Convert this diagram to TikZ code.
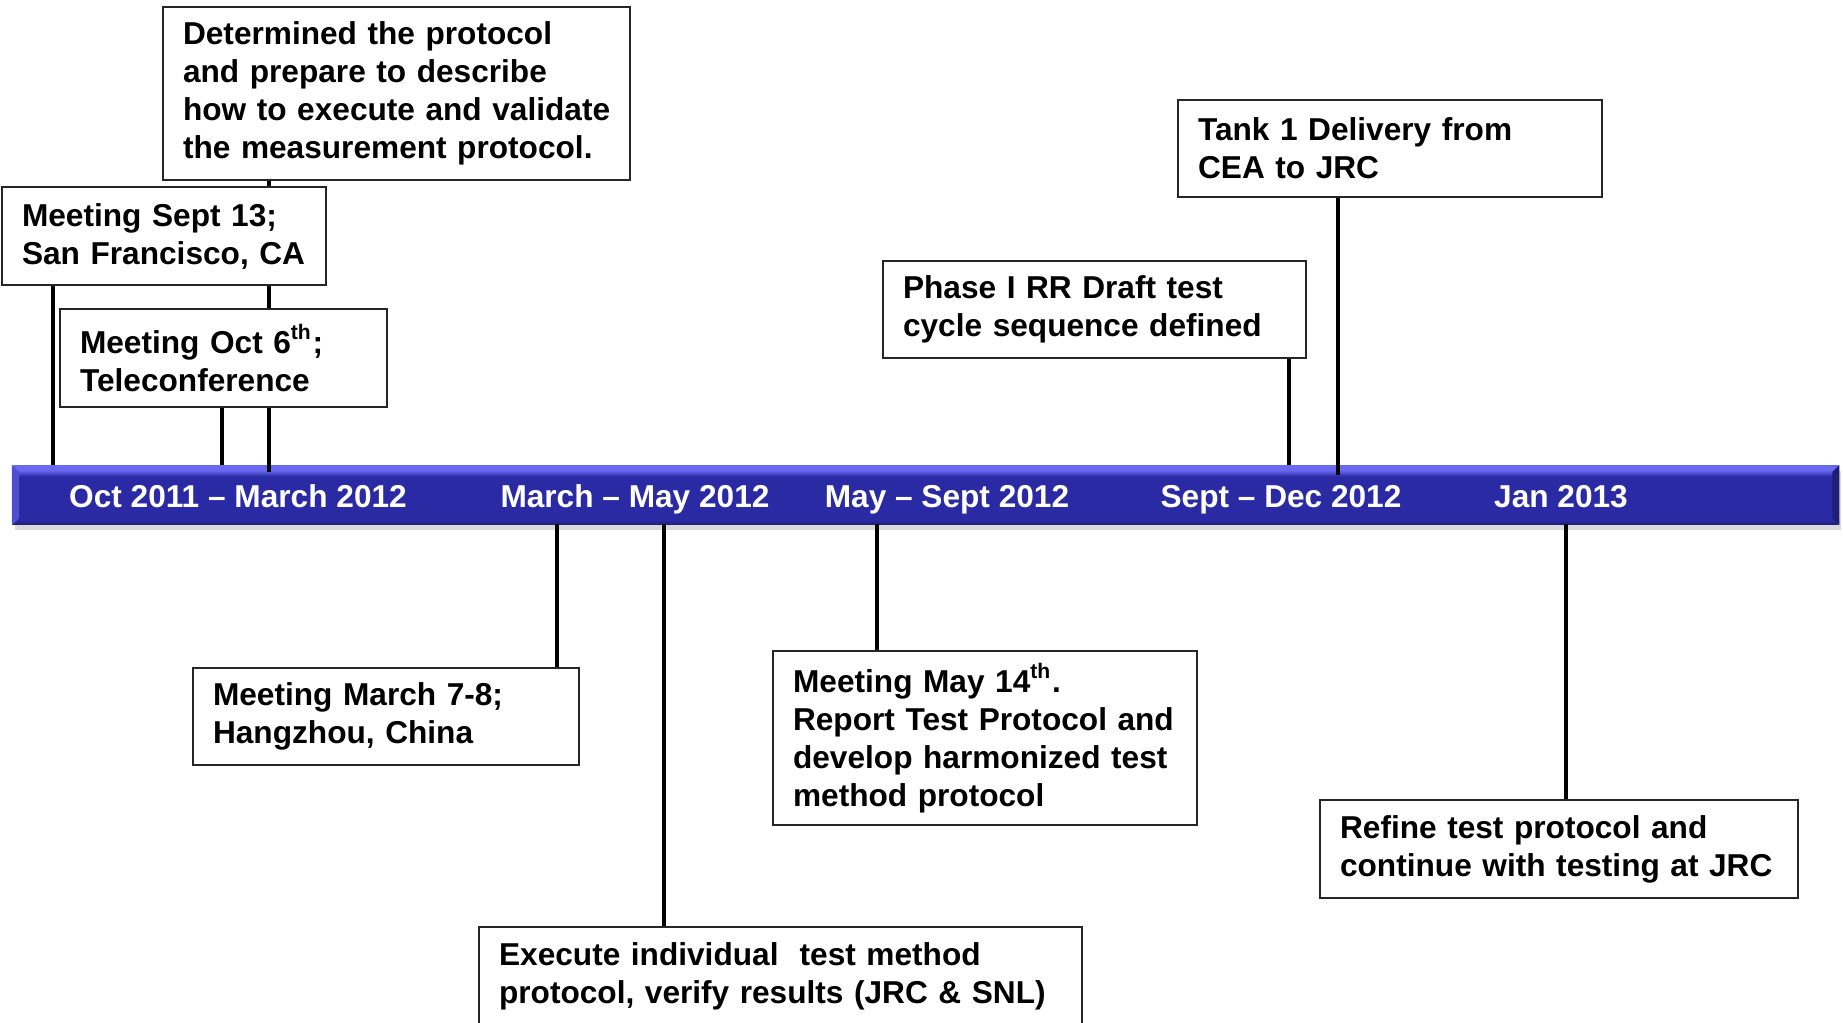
\documentclass[tikz,border=0pt]{standalone}
\usepackage{fontspec}
\setmainfont{Liberation Sans}
\usetikzlibrary{shadows}

\definecolor{barlight}{RGB}{104,104,240}
\definecolor{barmid}{RGB}{42,42,164}
\definecolor{bardark}{RGB}{30,30,118}
\pgfdeclareverticalshading{barshade}{100bp}{color(0bp)=(bardark); color(25bp)=(bardark); color(29bp)=(barmid); color(66bp)=(barmid); color(71bp)=(barlight); color(75bp)=(barlight); color(100bp)=(barlight)}

\tikzset{
        evbox/.style={draw=black!85, fill=white, line width=0.6pt, anchor=north west, align=left,
                inner xsep=0.2cm, inner ysep=0pt, font=\fontsize{9}{10.8}\selectfont\bfseries},
        timebar/.style={anchor=north west, inner sep=0pt, shading=barshade,
                drop shadow={shadow xshift=0.02cm, shadow yshift=-0.05cm, opacity=0.3}},
        barlabel/.style={text=white, anchor=base, font=\fontsize{9}{10.8}\selectfont\bfseries},
        conn/.style={line width=1.4pt},
    }

\begin{document}
\begin{tikzpicture}

        \useasboundingbox (0,0) rectangle (18.43,-10.22);

        % Time bar
        \node[timebar, minimum width=18.26cm, minimum height=0.59cm] (bar) at (0.12,-4.65) {};
        \fill[barlight!60!barmid] (bar.north west) -- ++(0.07,-0.07) -- ([xshift=0.07cm,yshift=0.07cm]bar.south west) -- (bar.south west) -- cycle;
        \fill[bardark] (bar.north east) -- ++(-0.07,-0.07) -- ([xshift=-0.07cm,yshift=0.07cm]bar.south east) -- (bar.south east) -- cycle;

        % Periods
        \node[barlabel] (per1) at (2.38,-5.07) {Oct 2011 – March 2012};
        \node[barlabel] (per2) at (6.35,-5.07) {March – May 2012};
        \node[barlabel] (per3) at (9.47,-5.07) {May – Sept 2012};
        \node[barlabel] (per4) at (12.81,-5.07) {Sept – Dec 2012};
        \node[barlabel] (per5) at (15.61,-5.07) {Jan 2013};

        % Ticks on the bar
        \coordinate (up1) at (0.53,-4.65);
        \coordinate (up2) at (2.22,-4.65);
        \coordinate (up3) at (2.69,-4.72);
        \coordinate (up4) at (12.89,-4.65);
        \coordinate (up5) at (13.38,-4.75);
        \coordinate (dn1) at (5.57,-5.24);
        \coordinate (dn2) at (6.64,-5.24);
        \coordinate (dn3) at (8.77,-5.24);
        \coordinate (dn4) at (15.66,-5.24);

        % Events above the bar
        \node[evbox, text width=4.27cm, minimum height=1.73cm] (detbox) at (1.62,-0.06)
                {Determined the protocol\\and prepare to describe\\\mbox{how to execute and validate}\\\mbox{the measurement protocol.}};
        \node[evbox, text width=3.84cm, minimum height=0.97cm] (tankbox) at (11.77,-0.99)
                {Tank 1 Delivery from\\CEA to JRC};
        \draw[conn] (detbox.south -| up3) -- (up3);
        \draw[conn] (tankbox.south -| up5) -- (up5);

        \node[evbox, text width=2.84cm, minimum height=0.98cm] (septbox) at (0.01,-1.86)
                {Meeting Sept 13;\\San Francisco, CA};
        \node[evbox, text width=2.87cm, minimum height=0.98cm] (octbox) at (0.59,-3.08)
                {Meeting Oct 6\textsuperscript{th};\\Teleconference};
        \node[evbox, text width=3.83cm, minimum height=0.97cm] (phasebox) at (8.82,-2.60)
                {Phase I RR Draft test\\cycle sequence defined};
        \draw[conn] (septbox.south -| up1) -- (up1);
        \draw[conn] (octbox.south -| up2) -- (up2);
        \draw[conn] (phasebox.south -| up4) -- (up4);

        % Events below the bar
        \node[evbox, text width=3.46cm, minimum height=0.97cm] (hangbox) at (1.92,-6.67)
                {Meeting March 7-8;\\Hangzhou, China};
        \node[evbox, text width=5.63cm, minimum height=0.98cm] (execbox) at (4.78,-9.26)
                {Execute individual~ test method\\protocol, verify results (JRC \& SNL)};
        \node[evbox, text width=3.84cm, minimum height=1.74cm] (maybox) at (7.72,-6.50)
                {Meeting May 14\textsuperscript{th}.\\Report Test Protocol and\\develop harmonized test\\method protocol};
        \node[evbox, text width=4.38cm, minimum height=0.98cm] (refbox) at (13.19,-7.99)
                {Refine test protocol and\\continue with testing at JRC};
        \draw[conn] (dn1) -- (dn1 |- hangbox.north);
        \draw[conn] (dn2) -- (dn2 |- execbox.north);
        \draw[conn] (dn3) -- (dn3 |- maybox.north);
        \draw[conn] (dn4) -- (dn4 |- refbox.north);

\end{tikzpicture}
\end{document}
